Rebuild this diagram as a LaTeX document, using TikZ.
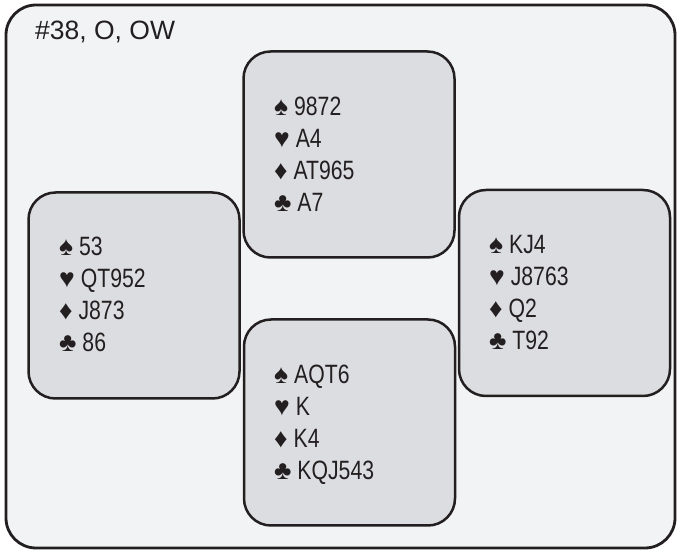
\documentclass[tikz,border=0pt]{standalone}
\usepackage{fontspec}
\setmainfont{Liberation Sans}
\newfontfamily\handfont[FakeStretch=0.8]{Liberation Sans}
\newfontfamily\suitfont{Liberation Sans}
\newcommand\cardsuit[1]{{\suitfont #1}}
\definecolor{outerfill}{HTML}{F2F3F5}
\definecolor{handfill}{HTML}{DCDDE0}
\definecolor{edgecol}{HTML}{231F20}
\begin{document}
\begin{tikzpicture}[x=1pt,y=-1pt,
  outerbox/.style={draw=edgecol, line width=2.8pt, fill=outerfill, rounded corners=30pt,
    minimum width=669pt, minimum height=543pt, inner sep=0pt},
  handbox/.style={draw=edgecol, line width=2.5pt, fill=handfill, rounded corners=27pt,
    minimum width=211pt, minimum height=206pt, inner sep=0pt},
  titletext/.style={anchor=base west, inner sep=0pt, text=edgecol, font=\fontsize{26.5}{30}\selectfont},
  cardline/.style={anchor=base west, inner sep=0pt, text=edgecol, font=\handfont\fontsize{26.5}{30}\selectfont}]
\useasboundingbox (0,0) rectangle (681,553);
\node[outerbox] (board) at (340.5,276.5) {};
\node[titletext] (title) at (35,40) {\#38, O, OW};
% North
\node[handbox] (north) at (349,154.5) {};
\node[cardline] (n1) at (274,116) {\cardsuit{♠} 9872};
\node[cardline] (n2) at (274,148) {\cardsuit{♥} A4};
\node[cardline] (n3) at (274,180) {\cardsuit{♦} AT965};
\node[cardline] (n4) at (274,212) {\cardsuit{♣} A7};
% West
\node[handbox] (west) at (134,295.5) {};
\node[cardline] (w1) at (59,256) {\cardsuit{♠} 53};
\node[cardline] (w2) at (59,288) {\cardsuit{♥} QT952};
\node[cardline] (w3) at (59,320) {\cardsuit{♦} J873};
\node[cardline] (w4) at (59,352) {\cardsuit{♣} 86};
% East
\node[handbox] (east) at (564.5,293) {};
\node[cardline] (e1) at (489,254) {\cardsuit{♠} KJ4};
\node[cardline] (e2) at (489,286) {\cardsuit{♥} J8763};
\node[cardline] (e3) at (489,318) {\cardsuit{♦} Q2};
\node[cardline] (e4) at (489,350) {\cardsuit{♣} T92};
% South
\node[handbox] (south) at (349.5,422.5) {};
\node[cardline] (s1) at (274,384) {\cardsuit{♠} AQT6};
\node[cardline] (s2) at (274,416) {\cardsuit{♥} K};
\node[cardline] (s3) at (274,448) {\cardsuit{♦} K4};
\node[cardline] (s4) at (274,480) {\cardsuit{♣} KQJ543};
\end{tikzpicture}
\end{document}
